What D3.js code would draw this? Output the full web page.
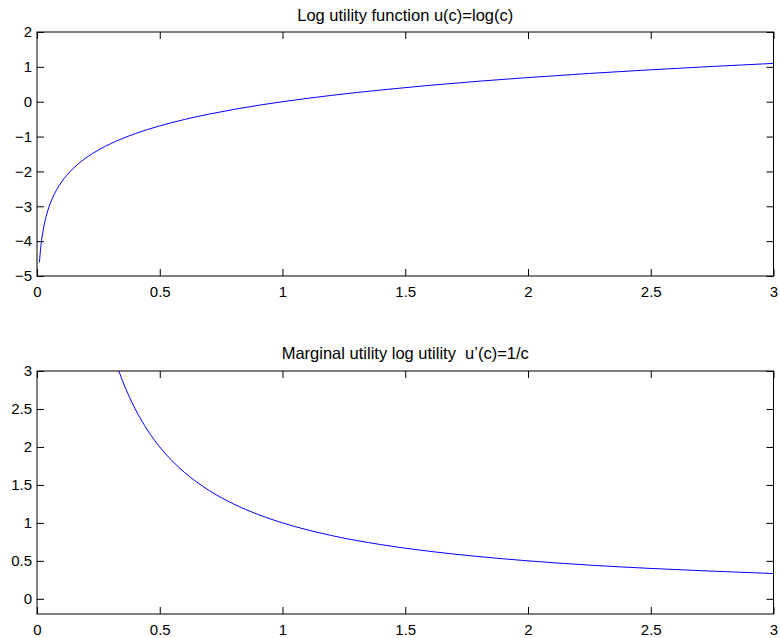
<!DOCTYPE html>
<html>
<head>
<meta charset="utf-8">
<script src="https://cdn.jsdelivr.net/npm/d3@7"></script>
<style>
  html, body { margin: 0; padding: 0; background: #fff; }
  svg { display: block; }
  text { font-family: "Liberation Sans", Arial, Helvetica, sans-serif; }
</style>
</head>
<body>
<svg id="chart" width="780" height="638"></svg>
<script>
// ---- Data ----
const titles = ["Log utility function u(c)=log(c)", "Marginal utility log utility  u\u2019(c)=1/c"];

// Top panel: u(c) = log(c), sampled
const cTop = [0.01, 0.0125, 0.015, 0.02, 0.025, 0.03, 0.04, 0.05, 0.06, 0.08, 0.1, 0.12, 0.15, 0.2, 0.25, 0.3, 0.4, 0.5, 0.6, 0.7, 0.8, 0.9, 1.0, 1.2, 1.4, 1.6, 1.8, 2.0, 2.25, 2.5, 2.75, 3.0];
const uTop = [-4.605, -4.382, -4.200, -3.912, -3.689, -3.507, -3.219, -2.996, -2.813, -2.526, -2.303, -2.120, -1.897, -1.609, -1.386, -1.204, -0.916, -0.693, -0.511, -0.357, -0.223, -0.105, 0.000, 0.182, 0.336, 0.470, 0.588, 0.693, 0.811, 0.916, 1.012, 1.099];

// Bottom panel: u'(c) = 1/c, sampled
const cBot = [0.3, 0.333, 0.35, 0.4, 0.45, 0.5, 0.55, 0.6, 0.7, 0.8, 0.9, 1.0, 1.2, 1.4, 1.6, 1.8, 2.0, 2.25, 2.5, 2.75, 3.0];
const uBot = [3.333, 3.003, 2.857, 2.500, 2.222, 2.000, 1.818, 1.667, 1.429, 1.250, 1.111, 1.000, 0.833, 0.714, 0.625, 0.556, 0.500, 0.444, 0.400, 0.364, 0.333];

const xTicks = [0, 0.5, 1, 1.5, 2, 2.5, 3];
const yTicksTop = [-5, -4, -3, -2, -1, 0, 1, 2];
const yTicksBot = [0, 0.5, 1, 1.5, 2, 2.5, 3];

// ---- Layout ----
const svg = d3.select("#chart");
const panels = [
  { top: 32, bottom: 276, ydom: [-5, 2], yticks: yTicksTop, xs: cTop, ys: uTop, title: titles[0], titleY: 21 },
  { top: 371, bottom: 614, ydom: [-0.2, 3], yticks: yTicksBot, xs: cBot, ys: uBot, title: titles[1], titleY: 359 }
];
const left = 37, right = 773.5;
const tickLen = 7;
const fmtNum = d => d3.format("")(d).replace("-", "\u2212");

panels.forEach((p, i) => {
  const x = d3.scaleLinear().domain([0, 3]).range([left, right]);
  const y = d3.scaleLinear().domain(p.ydom).range([p.bottom, p.top]);
  const g = svg.append("g");

  const clipId = "clip" + i;
  svg.append("clipPath").attr("id", clipId)
    .append("rect").attr("x", left).attr("y", p.top)
    .attr("width", right - left).attr("height", p.bottom - p.top);

  const pts = p.xs.map((c, k) => [c, p.ys[k]]);
  g.append("path")
    .datum(pts)
    .attr("clip-path", `url(#${clipId})`)
    .attr("fill", "none")
    .attr("stroke", "#0000ff")
    .attr("stroke-width", 1)
    .attr("d", d3.line().x(d => x(d[0])).y(d => y(d[1])).curve(d3.curveMonotoneX));

  const styleAxis = sel => {
    sel.attr("font-size", 15).attr("font-family", '"Liberation Sans", Arial, Helvetica, sans-serif');
    sel.select(".domain").remove();
    sel.selectAll(".tick line").attr("stroke", "#000");
    sel.selectAll(".tick text").attr("fill", "#000");
  };
  g.append("g").attr("transform", `translate(0,${p.bottom})`)
    .call(d3.axisBottom(x).tickValues(xTicks).tickFormat(fmtNum).tickSizeInner(-tickLen).tickSizeOuter(0).tickPadding(10))
    .call(styleAxis);
  g.append("g").attr("transform", `translate(0,${p.top})`)
    .call(d3.axisTop(x).tickValues(xTicks).tickFormat("").tickSizeInner(-tickLen).tickSizeOuter(0))
    .call(styleAxis);
  g.append("g").attr("transform", `translate(${left},0)`)
    .call(d3.axisLeft(y).tickValues(p.yticks).tickFormat(fmtNum).tickSizeInner(-tickLen).tickSizeOuter(0).tickPadding(5))
    .call(styleAxis);
  g.append("g").attr("transform", `translate(${right},0)`)
    .call(d3.axisRight(y).tickValues(p.yticks).tickFormat("").tickSizeInner(-tickLen).tickSizeOuter(0))
    .call(styleAxis);

  g.append("rect")
    .attr("x", left).attr("y", p.top)
    .attr("width", right - left).attr("height", p.bottom - p.top)
    .attr("fill", "none").attr("stroke", "#000").attr("stroke-width", 1);

  svg.append("text")
    .attr("x", (left + right) / 2).attr("y", p.titleY)
    .attr("text-anchor", "middle")
    .attr("xml:space", "preserve")
    .style("white-space", "pre")
    .style("font-size", "16.5px")
    .attr("fill", "#000")
    .text(p.title);
});
</script>
</body>
</html>
